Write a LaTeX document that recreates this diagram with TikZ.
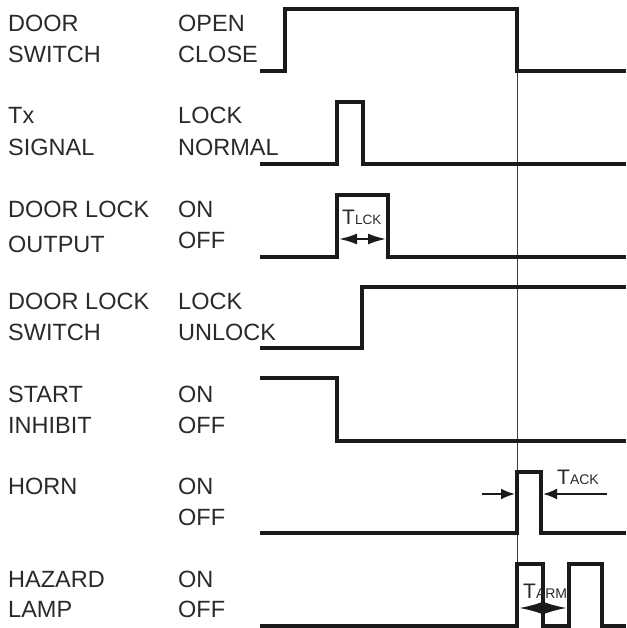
\documentclass[tikz,border=0pt]{standalone}
\usepackage{fontspec}
\setmainfont{Liberation Sans}
\usetikzlibrary{arrows.meta,positioning}
\definecolor{waveBlack}{HTML}{1A1A1A}
\definecolor{labelGray}{HTML}{2A2A2A}

\begin{document}
\begin{tikzpicture}[x=1pt,y=-1pt,
    sig/.style={draw=waveBlack,line width=3.4pt,line join=miter},
    marker/.style={draw=waveBlack!85,line width=1pt},
    lbl/.style={anchor=base west,text=labelGray,inner sep=0pt,
      font=\fontsize{23.5}{23.5}\selectfont},
    tlbl/.style={anchor=base west,text=labelGray,inner sep=0pt},
    dim/.style={draw=waveBlack,line width=2pt}]
    \useasboundingbox (0,0) rectangle (626,628);
    % signal names and levels
    \node[lbl] (dsw1) at (8,32) {DOOR};
    \node[lbl] (dsw2) at (8,63) {SWITCH};
    \node[lbl] (open) at (178,32) {OPEN};
    \node[lbl] (close) at (178,63) {CLOSE};
    \node[lbl] (tx1) at (8,124) {Tx};
    \node[lbl] (tx2) at (8,156) {SIGNAL};
    \node[lbl] (txlock) at (178,124) {LOCK};
    \node[lbl] (txnorm) at (178,156) {NORMAL};
    \node[lbl] (dlo1) at (8,217) {DOOR LOCK};
    \node[lbl] (dlo2) at (8,252) {OUTPUT};
    \node[lbl] (dloon) at (178,217) {ON};
    \node[lbl] (dlooff) at (178,248) {OFF};
    \node[lbl] (dls1) at (8,309) {DOOR LOCK};
    \node[lbl] (dls2) at (8,340) {SWITCH};
    \node[lbl] (dlslock) at (178,309) {LOCK};
    \node[lbl] (dlsunlock) at (178,340) {UNLOCK};
    \node[lbl] (inh1) at (8,402) {START};
    \node[lbl] (inh2) at (8,433) {INHIBIT};
    \node[lbl] (inhon) at (178,402) {ON};
    \node[lbl] (inhoff) at (178,433) {OFF};
    \node[lbl] (horn) at (8,494) {HORN};
    \node[lbl] (hornon) at (178,494) {ON};
    \node[lbl] (hornoff) at (178,525) {OFF};
    \node[lbl] (haz1) at (8,587) {HAZARD};
    \node[lbl] (haz2) at (8,617) {LAMP};
    \node[lbl] (hazon) at (178,587) {ON};
    \node[lbl] (hazoff) at (178,617) {OFF};
    % time marker
    \coordinate (mtop) at (517,9);
    \coordinate (mbot) at (517,564);
    \draw[marker] (mtop) -- (mbot);
    % waveforms
    \draw[sig] (260,71) -- (285,71) -- (285,9) -- (517,9) -- (517,71) -- (626,71);
    \draw[sig] (260,164) -- (337,164) -- (337,102) -- (363,102) -- (363,164) -- (626,164);
    \draw[sig] (260,257) -- (337,257) -- (337,195) -- (388,195) -- (388,257) -- (626,257);
    \draw[sig] (260,348) -- (362,348) -- (362,287) -- (626,287);
    \draw[sig] (260,378) -- (337,378) -- (337,441) -- (626,441);
    \draw[sig] (260,533) -- (517,533) -- (517,472) -- (541,472) -- (541,533) -- (626,533);
    \draw[sig] (260,626) -- (517,626) -- (517,564) -- (543,564) -- (543,626)
      -- (569,626) -- (569,564) -- (602,564) -- (602,626) -- (626,626);
    % timing intervals
    \coordinate (lckl) at (339,239);
    \coordinate (lckr) at (386,239);
    \draw[dim,{Latex[length=18pt,width=11pt]}-{Latex[length=18pt,width=11pt]}] (lckl) -- (lckr);
    \node[tlbl] (tlck) at (342,225) {{\fontsize{21}{21}\selectfont T}{\fontsize{13.5}{13.5}\selectfont LCK}};
    \coordinate (ackla) at (482,494);
    \coordinate (acklb) at (515,494);
    \coordinate (ackra) at (607,494);
    \coordinate (ackrb) at (543,494);
    \draw[dim,-{Latex[length=14pt,width=11pt]}] (ackla) -- (acklb);
    \draw[dim,-{Latex[length=14pt,width=11pt]}] (ackra) -- (ackrb);
    \node[tlbl] (tack) at (557,484) {{\fontsize{21}{21}\selectfont T}{\fontsize{14}{14}\selectfont ACK}};
    \coordinate (arml) at (519,608);
    \coordinate (armr) at (567,608);
    \draw[dim,{Latex[length=23pt,width=12pt]}-{Latex[length=23pt,width=12pt]}] (arml) -- (armr);
    \node[tlbl] (tarm) at (523,598) {{\fontsize{21}{21}\selectfont T}{\fontsize{14}{14}\selectfont ARM}};
  \end{tikzpicture}
\end{document}
